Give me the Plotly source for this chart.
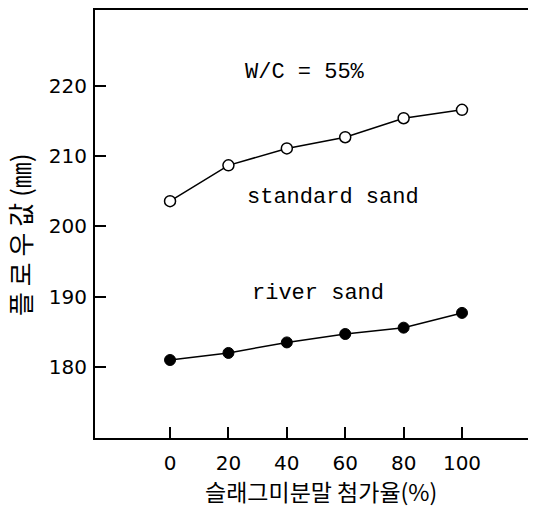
import plotly.graph_objects as go

slag_ratio = [0, 20, 40, 60, 80, 100]
standard_sand = [203.6, 208.7, 211.1, 212.7, 215.4, 216.6]
river_sand = [181.0, 182.0, 183.5, 184.7, 185.6, 187.7]
x_ticks = [0, 20, 40, 60, 80, 100]
y_ticks = [180, 190, 200, 210, 220]

fig = go.Figure()
fig.add_trace(go.Scatter(
    x=slag_ratio, y=standard_sand, mode="lines+markers",
    line=dict(color="black", width=1.5),
    marker=dict(symbol="circle", size=11, color="white",
                line=dict(color="black", width=1.5)),
    showlegend=False))
fig.add_trace(go.Scatter(
    x=slag_ratio, y=river_sand, mode="lines+markers",
    line=dict(color="black", width=1.5),
    marker=dict(symbol="circle", size=11, color="black",
                line=dict(color="black", width=1)),
    showlegend=False))

mono = dict(family="Liberation Mono", size=22, color="black")
fig.add_annotation(x=46.2, y=221.9, text="W/C = 55%", showarrow=False, font=mono)
fig.add_annotation(x=55.8, y=204.1, text="standard sand", showarrow=False, font=mono)
fig.add_annotation(x=50.7, y=190.4, text="river sand", showarrow=False, font=mono)

fig.add_annotation(xref="paper", yref="paper", x=(321 - 95) / 433, y=(438 - 491) / 428,
                   xanchor="center", yanchor="middle",
                   text="슬래그미분말 첨가율(%)", showarrow=False,
                   font=dict(family="Noto Sans CJK KR", size=23, color="black"))
fig.add_annotation(xref="paper", yref="paper", x=(19 - 95) / 433, y=(438 - 235) / 428,
                   xanchor="center", yanchor="middle",
                   text="플 로 우 값 (㎜)", showarrow=False, textangle=-90,
                   font=dict(family="Noto Sans CJK KR", size=26, color="black"))

axis_common = dict(showline=True, linecolor="black", linewidth=2,
                   ticks="inside", ticklen=11, tickwidth=2, tickcolor="black",
                   showgrid=False, zeroline=False,
                   tickfont=dict(family="DejaVu Sans", size=20, color="black"))
fig.update_xaxes(range=[-25.7, 122.6], tickvals=x_ticks, mirror=True,
                 ticklabelstandoff=6, **axis_common)
fig.update_yaxes(range=[169.9, 230.8], tickvals=y_ticks, ticklabelstandoff=2,
                 **axis_common)

fig.update_layout(width=533, height=508, margin=dict(l=95, r=5, t=10, b=70),
                  plot_bgcolor="white", paper_bgcolor="white")
fig.write_html("out.html")
